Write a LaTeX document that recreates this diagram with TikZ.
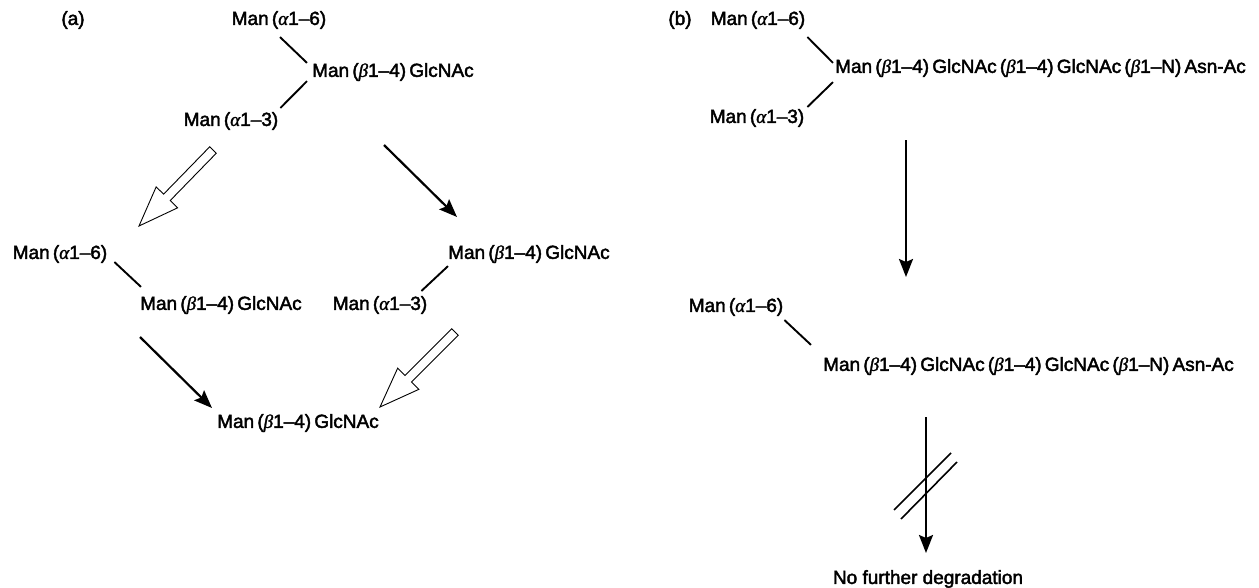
\documentclass[tikz,border=0pt]{standalone}
\usepackage{fontspec}
\setmainfont{Liberation Sans}[FakeBold=2.2]
\newfontfamily\grkfont{Liberation Serif}[FakeBold=1.4]
\newcommand\ga{{\grkfont\itshape α}}
\newcommand\gb{{\grkfont\itshape β}}
\usetikzlibrary{arrows.meta,calc}
\newcommand\hollowarr[2]{%
  \draw[hollow] ($(#1)!4.6pt!90:(#2)$)
    -- ($(#2)!40pt!(#1)!4.6pt!90:(#2)$)
    -- ($(#2)!40pt!(#1)!15pt!90:(#2)$)
    -- (#2)
    -- ($(#2)!40pt!(#1)!15pt!-90:(#2)$)
    -- ($(#2)!40pt!(#1)!4.6pt!-90:(#2)$)
    -- ($(#1)!4.6pt!-90:(#2)$) -- cycle;}
\begin{document}
\begin{tikzpicture}[x=1pt,y=-1pt,
  lbl/.style={inner sep=0pt, font=\fontsize{19}{21}\selectfont},
  link/.style={line width=1.9pt},
  blk/.style={line width=2.2pt, -{Stealth[length=18pt,width=14pt,inset=3pt]}},
  hollow/.style={line width=0.9pt, fill=white, line join=miter},
  slash/.style={line width=1.6pt}]
\useasboundingbox (0,0) rectangle (1259,587);
% ---------- panel (a)
\node[lbl] (la) at (73,20) {(a)};
\node[lbl] (A1) at (279,20) {Man\,(\ga1–6)};
\node[lbl, anchor=west] (A2) at (312,72) {Man\,(\gb1–4)\,GlcNAc};
\node[lbl] (A3) at (231,121) {Man\,(\ga1–3)};
\draw[link] ($(A1.south)+(1,8)$) -- ($(A2.north west)+(-5,0)$);
\draw[link] ($(A2.south west)+(-5,0)$) -- ($(A3.north east)+(2,-4)$);
\coordinate (h1s) at (213,150);
\coordinate (h1t) at (139,226);
\hollowarr{h1s}{h1t}
\coordinate (k1s) at (384,145);
\coordinate (k1t) at (457,217);
\draw[blk] (k1s) -- (k1t);
\node[lbl] (L1) at (60,254) {Man\,(\ga1–6)};
\node[lbl, anchor=west] (L2) at (140,305) {Man\,(\gb1–4)\,GlcNAc};
\draw[link] ($(L1.south east)+(7,-1)$) -- ($(L2.north west)+(1,-9)$);
\node[lbl, anchor=west] (R1) at (448,254) {Man\,(\gb1–4)\,GlcNAc};
\node[lbl] (R2) at (380,305) {Man\,(\ga1–3)};
\draw[link] ($(R2.north east)+(-6,-5)$) -- ($(R1.south west)+(0,3)$);
\coordinate (k2s) at (140,337);
\coordinate (k2t) at (212,408);
\draw[blk] (k2s) -- (k2t);
\coordinate (h2s) at (455,332);
\coordinate (h2t) at (380,407);
\hollowarr{h2s}{h2t}
\node[lbl] (Bot) at (298,423) {Man\,(\gb1–4)\,GlcNAc};
% ---------- panel (b)
\node[lbl] (lb) at (680,20) {(b)};
\node[lbl] (B1) at (758,20) {Man\,(\ga1–6)};
\node[lbl, anchor=west] (B2) at (835,68) {Man\,(\gb1–4)\,GlcNAc\,(\gb1–4)\,GlcNAc\,(\gb1–N)\,Asn-Ac};
\node[lbl] (B3) at (757,118) {Man\,(\ga1–3)};
\draw[link] ($(B1.south east)+(2,8)$) -- ($(B2.north west)+(-2,4)$);
\draw[link] ($(B2.south west)+(-2,5)$) -- ($(B3.north east)+(3,-2)$);
\coordinate (v1s) at (906,140);
\coordinate (v1t) at (906,277);
\draw[blk] (v1s) -- (v1t);
\node[lbl] (C1) at (736,307) {Man\,(\ga1–6)};
\node[lbl, anchor=west] (C2) at (823,366) {Man\,(\gb1–4)\,GlcNAc\,(\gb1–4)\,GlcNAc\,(\gb1–N)\,Asn-Ac};
\draw[link] ($(C1.south east)+(1,4)$) -- ($(C2.north west)+(-12,-12)$);
\coordinate (v2s) at (926,417);
\coordinate (v2t) at (926,553);
\draw[blk] (v2s) -- (v2t);
\coordinate (s1a) at (894,510);
\coordinate (s1b) at (951,453);
\coordinate (s2a) at (901,519);
\coordinate (s2b) at (957,462);
\draw[slash] (s1a) -- (s1b);
\draw[slash] (s2a) -- (s2b);
\node[lbl] (NF) at (928,579) {No further degradation};
\end{tikzpicture}
\end{document}
